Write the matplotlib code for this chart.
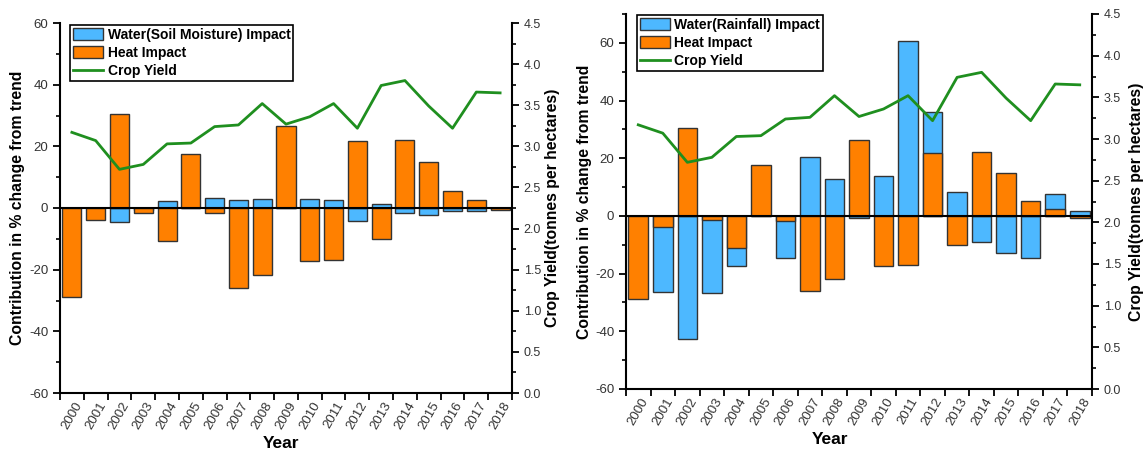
import matplotlib
matplotlib.use("Agg")
import matplotlib.pyplot as plt
from matplotlib.patches import Patch
from matplotlib.lines import Line2D
from matplotlib.ticker import (MultipleLocator, FixedLocator, NullFormatter,
                               FixedFormatter, FormatStrFormatter)

plt.rcParams['font.family'] = ['Liberation Sans', 'DejaVu Sans']
plt.rcParams['axes.unicode_minus'] = False

years = [str(y) for y in range(2000, 2019)]

# Crop yield (tonnes per hectare), shared by both panels
crop_yield = [3.17, 3.07, 2.72, 2.78, 3.03, 3.04, 3.24, 3.26, 3.52, 3.27,
              3.36, 3.52, 3.22, 3.74, 3.80, 3.49, 3.22, 3.66, 3.65]

# Panel A: soil moisture vs heat contributions (% change from trend)
soil_water = [0.0, 0.0, -4.6, -0.8, 2.2, 0.0, 3.2, 2.7, 2.9, 0.0,
              3.0, 2.5, -4.1, 1.4, -1.6, -2.4, -1.1, -1.1, -0.4]
soil_heat = [-28.8, -3.8, 30.5, -1.5, -10.7, 17.6, -1.6, -25.9, -21.8, 26.5,
             -17.3, -17.0, 21.8, -9.9, 22.1, 15.0, 5.4, 2.7, -0.6]

# Panel B: rainfall vs heat contributions (% change from trend)
rain_water = [0.0, -26.4, -42.6, -26.8, -17.4, 0.0, -14.6, 20.5, 12.8, -0.6,
              13.7, 60.7, 35.9, 8.3, -8.9, -12.8, -14.6, 7.7, 1.7]
rain_heat = [-28.8, -4.0, 30.4, -1.3, -11.0, 17.6, -1.6, -26.2, -21.9, 26.4,
             -17.4, -17.1, 21.9, -10.1, 22.3, 15.0, 5.3, 2.5, -0.7]

BLUE = '#4db8ff'
ORANGE = '#ff8000'
GREEN = '#1f8f1f'
EDGE = '#333333'
TICKC = '#333333'

W, H = 1144, 453
fig = plt.figure(figsize=(W / 100, H / 100), dpi=100)


def px_axes(x0, x1, ytop, ybot):
    return fig.add_axes([x0 / W, 1 - ybot / H, (x1 - x0) / W, (ybot - ytop) / H])


def panel(rect, water, heat, water_label, ylim, year_x, ylab_x, y2lab_x, leg_anchor):
    x0, x1, ytop, ybot = rect
    ax = px_axes(*rect)
    n = len(years)
    x = list(range(n))
    ax.bar(x, water, width=0.8, color=BLUE, edgecolor=EDGE, linewidth=1.0, zorder=2)
    ax.bar(x, heat, width=0.8, color=ORANGE, edgecolor=EDGE, linewidth=1.0, zorder=3)
    ax.axhline(0, color='black', linewidth=1.5, zorder=4)
    ax.set_xlim(-0.5, n - 0.5)
    ax.set_ylim(*ylim)

    # ticks at category boundaries, labels at category centres
    ax.xaxis.set_major_locator(FixedLocator([i - 0.5 for i in range(n + 1)]))
    ax.xaxis.set_major_formatter(NullFormatter())
    ax.xaxis.set_minor_locator(FixedLocator(x))
    ax.xaxis.set_minor_formatter(FixedFormatter(years))
    ax.tick_params(axis='x', which='major', direction='out', length=5, width=1.3, color='black')
    ax.tick_params(axis='x', which='minor', length=0, pad=5, labelsize=9.5, labelcolor=TICKC)
    for lab in ax.xaxis.get_minorticklabels():
        lab.set_rotation(60)
        lab.set_ha('center')
        lab.set_va('top')

    ax.yaxis.set_major_locator(MultipleLocator(20))
    ax.yaxis.set_minor_locator(MultipleLocator(10))
    ax.tick_params(axis='y', which='major', direction='out', length=5, width=1.3,
                   labelsize=9.5, labelcolor=TICKC)
    ax.tick_params(axis='y', which='minor', direction='out', length=3, width=1.2)
    ax.set_ylabel('Contribution in % change from trend', fontsize=11.3, fontweight='bold')
    ax.yaxis.set_label_coords((ylab_x - x0) / (x1 - x0), 0.5)

    for s in ('top', 'right'):
        ax.spines[s].set_visible(False)
    for s in ('left', 'bottom'):
        ax.spines[s].set_linewidth(1.5)

    ax.set_xlabel('Year', fontsize=12.5, fontweight='bold')
    ax.xaxis.set_label_coords(year_x, -0.115)

    ax2 = ax.twinx()
    ax2.plot(x, crop_yield, color=GREEN, linewidth=2.0, zorder=5)
    ax2.set_ylim(0, 4.5)
    ax2.yaxis.set_major_locator(MultipleLocator(0.5))
    ax2.yaxis.set_minor_locator(MultipleLocator(0.25))
    ax2.yaxis.set_major_formatter(FormatStrFormatter('%.1f'))
    ax2.tick_params(axis='y', which='major', direction='out', length=5, width=1.3,
                    labelsize=9, labelcolor=TICKC)
    ax2.tick_params(axis='y', which='minor', direction='out', length=3, width=1.2)
    for s in ('top', 'left', 'bottom'):
        ax2.spines[s].set_visible(False)
    ax2.spines['right'].set_linewidth(1.5)
    ax2.set_ylabel('Crop Yield(tonnes per hectares)', fontsize=11.3, fontweight='bold')
    ax2.yaxis.set_label_coords((y2lab_x - x0) / (x1 - x0), 0.5)

    handles = [Patch(facecolor=BLUE, edgecolor=EDGE, linewidth=1.0),
               Patch(facecolor=ORANGE, edgecolor=EDGE, linewidth=1.0),
               Line2D([], [], color=GREEN, linewidth=2.0)]
    labels = [water_label, 'Heat Impact', 'Crop Yield']
    lx, ly = leg_anchor
    leg = ax2.legend(handles, labels, loc='upper left',
                     bbox_to_anchor=((lx - x0) / (x1 - x0), (ybot - ly) / (ybot - ytop)),
                     borderaxespad=0, fancybox=False, framealpha=1, edgecolor='black',
                     prop={'weight': 'bold', 'size': 10}, handlelength=2.15,
                     handleheight=1.0, labelspacing=0.3, borderpad=0.2,
                     handletextpad=0.35)
    leg.get_frame().set_linewidth(1.2)
    return ax, ax2


panel((60, 512, 23, 393), soil_water, soil_heat, 'Water(Soil Moisture) Impact',
      (-60, 60), 0.49, 25, 545, (70, 25))
panel((626, 1092, 14, 389), rain_water, rain_heat, 'Water(Rainfall) Impact',
      (-60, 70), 0.437, 592, 1129, (637, 15))

fig.savefig('out.png', dpi=100)
